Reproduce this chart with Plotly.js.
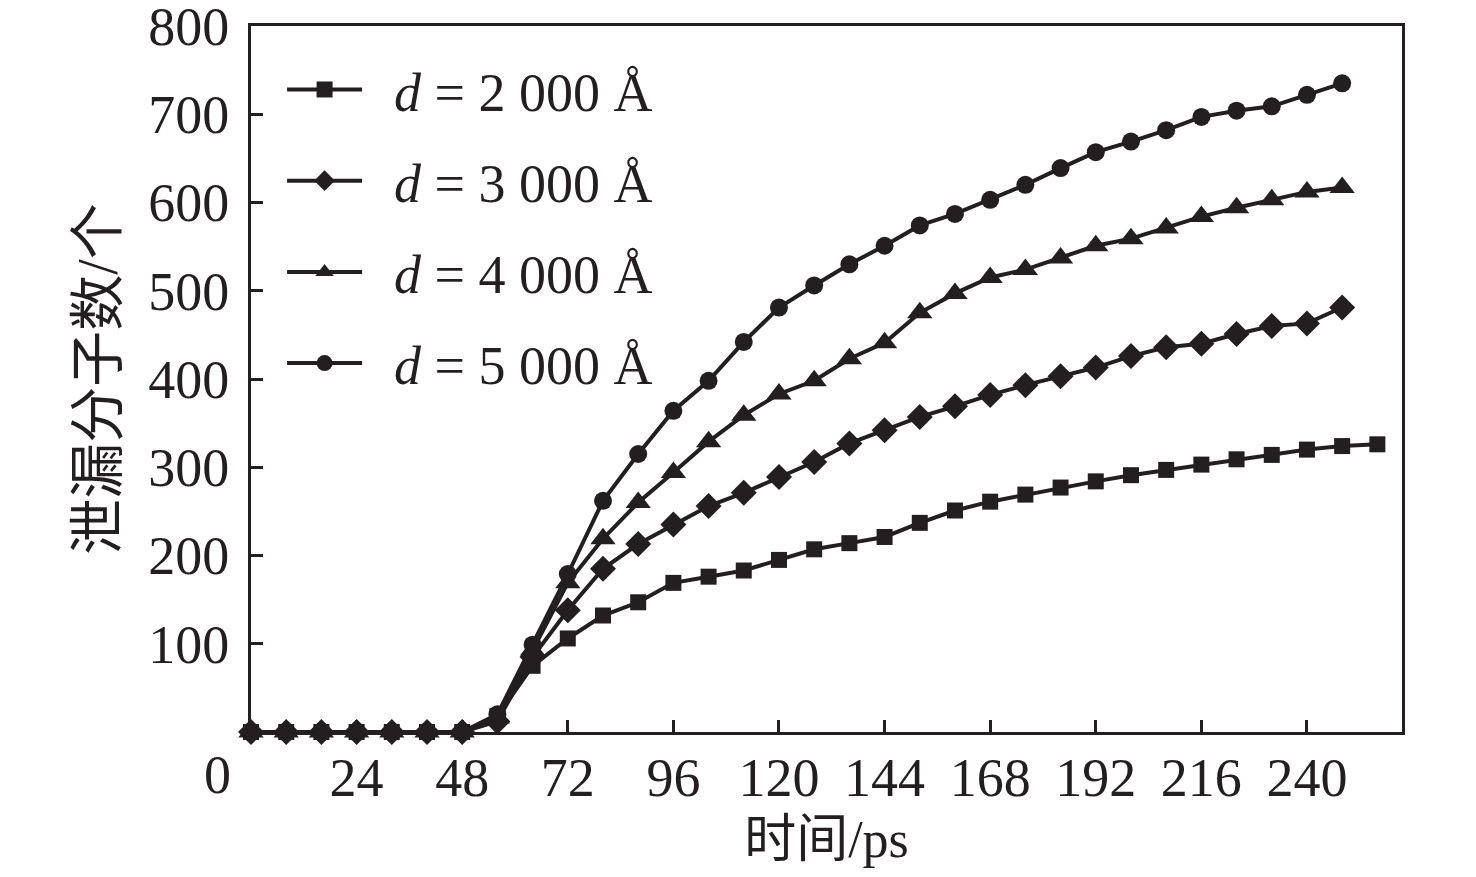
<!DOCTYPE html>
<html>
<head>
<meta charset="utf-8">
<script src="https://cdn.plot.ly/plotly-3.0.1.min.js"></script>
<style>
  body { margin: 0; background: #fff; }
</style>
</head>
<body>
<div id="leakPlot" style="width:1476px;height:877px;"></div>
<script>
// time (ps) and leaked molecule counts
const timeLong = [0, 8, 16, 24, 32, 40, 48, 56, 64, 72, 80, 88, 96, 104, 112, 120, 128, 136, 144, 152, 160, 168, 176, 184, 192, 200, 208, 216, 224, 232, 240, 248, 256];
const timeShort = [0, 8, 16, 24, 32, 40, 48, 56, 64, 72, 80, 88, 96, 104, 112, 120, 128, 136, 144, 152, 160, 168, 176, 184, 192, 200, 208, 216, 224, 232, 240, 248];

const leak2000 = [0, 0, 0, 0, 0, 0, 0, 18, 75, 106, 132, 147, 169, 176, 183, 195, 207, 214, 221, 237, 251, 261, 269, 277, 284, 291, 297, 303, 309, 314, 320, 324, 326];
const leak3000 = [0, 0, 0, 0, 0, 0, 0, 12, 85, 138, 185, 213, 235, 256, 271, 289, 306, 327, 342, 357, 369, 382, 393, 403, 413, 426, 436, 440, 451, 460, 463, 481];
const leak4000 = [0, 0, 0, 0, 0, 0, 0, 16, 93, 169, 219, 260, 294, 329, 359, 383, 398, 423, 441, 475, 497, 515, 524, 537, 551, 559, 571, 584, 594, 603, 612, 617];
const leak5000 = [0, 0, 0, 0, 0, 0, 0, 20, 99, 179, 262, 315, 364, 398, 442, 481, 506, 530, 551, 574, 587, 603, 620, 639, 657, 669, 682, 697, 704, 709, 722, 735];

// leading no-break spaces push the label away from the legend symbol
const seriesNames = ["\u00a0\u00a0<i>d</i> = 2 000 Å", "\u00a0\u00a0<i>d</i> = 3 000 Å", "\u00a0\u00a0<i>d</i> = 4 000 Å", "\u00a0\u00a0<i>d</i> = 5 000 Å"];
const xTicks = [24, 48, 72, 96, 120, 144, 168, 192, 216, 240];
const yTicks = [100, 200, 300, 400, 500, 600, 700, 800];

const ink = "#231f20";
const serif = "Liberation Serif, Times New Roman, Noto Sans CJK SC, serif";

function series(x, y, name, symbol, size, group) {
    return {
        x: x,
        y: y,
        name: name,
        legendgroup: group,
        type: "scatter",
        mode: "lines+markers",
        cliponaxis: false,
        line: { color: ink, width: 4 },
        marker: { symbol: symbol, size: size, color: ink }
    };
}

const traces = [
    series(timeLong, leak2000, seriesNames[0], "square", 16, "a"),
    series(timeShort, leak3000, seriesNames[1], "diamond", 20, "b"),
    series(timeShort, leak4000, seriesNames[2], "triangle-up", 22, "c"),
    series(timeShort, leak5000, seriesNames[3], "circle", 18, "d")
];

const layout = {
    width: 1476,
    height: 877,
    margin: { l: 251, r: 74, t: 26, b: 145 },
    paper_bgcolor: "#fff",
    plot_bgcolor: "#fff",
    font: { family: serif, size: 54, color: ink },
    showlegend: true,
    legend: {
        x: 0.027,
        y: 0.969,
        xanchor: "left",
        yanchor: "top",
        bgcolor: "rgba(0,0,0,0)",
        font: { family: serif, size: 54, color: ink },
        tracegroupgap: 18,
        itemwidth: 75
    },
    xaxis: {
        range: [0, 261.6],
        tickvals: xTicks,
        ticks: "inside",
        ticklen: 12,
        tickwidth: 3,
        tickcolor: ink,
        showline: true,
        linewidth: 3,
        linecolor: ink,
        mirror: true,
        showgrid: false,
        zeroline: false,
        ticklabelstandoff: -4,
        tickfont: { family: serif, size: 54, color: ink },
        title: { text: "时间/ps", font: { family: serif, size: 52, color: ink }, standoff: 14 }
    },
    yaxis: {
        range: [0, 800],
        tickvals: yTicks,
        ticks: "inside",
        ticklen: 12,
        tickwidth: 3,
        tickcolor: ink,
        showline: true,
        linewidth: 3,
        linecolor: ink,
        mirror: true,
        showgrid: false,
        zeroline: false,
        ticklabelstandoff: 8,
        ticklabeloverflow: "allow",
        tickfont: { family: serif, size: 54, color: ink },
        title: { text: "泄漏分子数/个", font: { family: serif, size: 56, color: ink }, standoff: 13 }
    },
    annotations: [{
        text: "0",
        xref: "paper",
        yref: "paper",
        x: -0.029,
        y: 0,
        yshift: -43,
        xanchor: "center",
        yanchor: "middle",
        showarrow: false,
        font: { family: serif, size: 54, color: ink }
    }]
};

Plotly.newPlot(document.getElementById("leakPlot"), traces, layout, { displayModeBar: false, staticPlot: true });
</script>
</body>
</html>
